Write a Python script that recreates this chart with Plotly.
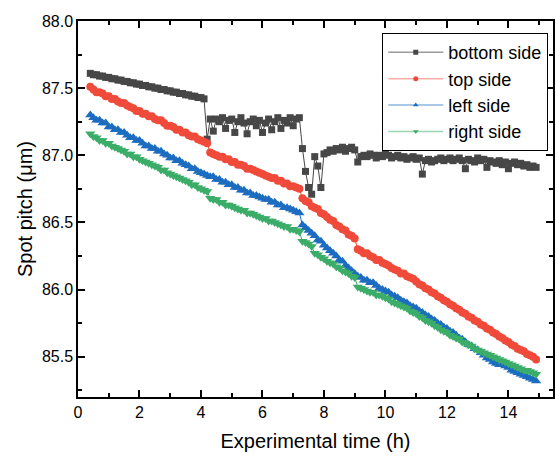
import numpy as np
import plotly.graph_objects as go

# Sampling clock: one reading every 0.1 h from 0.4 h to 14.9 h
time_h = np.round(np.arange(0.4, 14.95, 0.1), 1)

bottom_side = [
    87.61, 87.60, 87.60, 87.59, 87.59, 87.58, 87.58, 87.57, 87.57, 87.56,
    87.56, 87.55, 87.55, 87.54, 87.54, 87.53, 87.53, 87.52, 87.52, 87.51,
    87.51, 87.50, 87.50, 87.49, 87.49, 87.48, 87.48, 87.47, 87.47, 87.46,
    87.46, 87.45, 87.45, 87.44, 87.44, 87.43, 87.43, 87.42, 87.12, 87.27,
    87.18, 87.27, 87.25, 87.28, 87.20, 87.26, 87.27, 87.17, 87.25, 87.28,
    87.24, 87.16, 87.25, 87.27, 87.22, 87.26, 87.17, 87.24, 87.27, 87.19,
    87.25, 87.28, 87.20, 87.26, 87.24, 87.28, 87.22, 87.27, 87.28, 87.05,
    86.88, 86.76, 86.71, 86.99, 86.92, 86.76, 87.01, 87.02, 87.04, 87.03,
    87.05, 87.04, 87.06, 87.03, 87.05, 87.06, 87.04, 86.95, 86.99, 87.00,
    86.99, 87.01, 87.00, 86.98, 87.00, 86.99, 87.01, 87.00, 86.98, 86.99,
    87.00, 86.98, 86.99, 86.97, 86.98, 86.99, 86.97, 86.98, 86.86, 86.96,
    86.97, 86.95, 86.96, 86.97, 86.98, 86.96, 86.97, 86.98, 86.96, 86.97,
    86.98, 86.96, 86.90, 86.97, 86.96, 86.95, 86.98, 86.96, 86.97, 86.91,
    86.96, 86.95, 86.94, 86.96, 86.93, 86.95, 86.90, 86.94, 86.95, 86.93,
    86.94, 86.92, 86.93, 86.91, 86.92, 86.91,
]

top_side = [
    87.51, 87.49, 87.47, 87.47, 87.46, 87.44, 87.44, 87.42, 87.42, 87.40,
    87.39, 87.39, 87.37, 87.36, 87.35, 87.33, 87.33, 87.31, 87.31, 87.29,
    87.29, 87.27, 87.26, 87.26, 87.24, 87.22, 87.22, 87.21, 87.19, 87.19,
    87.17, 87.17, 87.15, 87.14, 87.14, 87.12, 87.11, 87.10, 87.09, 87.02,
    87.01, 87.00, 86.99, 86.99, 86.97, 86.97, 86.95, 86.95, 86.93, 86.93,
    86.92, 86.90, 86.90, 86.89, 86.88, 86.87, 86.86, 86.85, 86.84, 86.83,
    86.83, 86.81, 86.81, 86.79, 86.79, 86.77, 86.77, 86.76, 86.75, 86.68,
    86.66, 86.65, 86.62, 86.61, 86.60, 86.57, 86.56, 86.54, 86.52, 86.51,
    86.48, 86.47, 86.45, 86.44, 86.41, 86.40, 86.38, 86.30, 86.29, 86.27,
    86.27, 86.25, 86.24, 86.22, 86.22, 86.20, 86.19, 86.18, 86.16, 86.15,
    86.14, 86.12, 86.12, 86.10, 86.09, 86.08, 86.06, 86.04, 86.03, 86.01,
    86.00, 85.98, 85.97, 85.95, 85.94, 85.92, 85.91, 85.89, 85.88, 85.86,
    85.85, 85.83, 85.82, 85.80, 85.79, 85.77, 85.76, 85.74, 85.73, 85.71,
    85.70, 85.68, 85.67, 85.65, 85.64, 85.62, 85.61, 85.59, 85.58, 85.56,
    85.55, 85.54, 85.52, 85.51, 85.50, 85.48,
]

left_side = [
    87.30, 87.28, 87.26, 87.26, 87.24, 87.24, 87.21, 87.21, 87.19, 87.19,
    87.17, 87.17, 87.15, 87.13, 87.13, 87.11, 87.11, 87.09, 87.07, 87.07,
    87.05, 87.05, 87.03, 87.03, 87.01, 87.00, 86.98, 86.98, 86.96, 86.96,
    86.94, 86.93, 86.92, 86.90, 86.90, 86.88, 86.87, 86.86, 86.85, 86.84,
    86.84, 86.82, 86.82, 86.80, 86.80, 86.78, 86.78, 86.76, 86.76, 86.74,
    86.74, 86.72, 86.72, 86.70, 86.70, 86.69, 86.68, 86.67, 86.67, 86.65,
    86.65, 86.63, 86.63, 86.61, 86.61, 86.60, 86.59, 86.58, 86.57, 86.48,
    86.46, 86.44, 86.42, 86.40, 86.37, 86.36, 86.33, 86.31, 86.29, 86.27,
    86.25, 86.22, 86.21, 86.18, 86.16, 86.14, 86.12, 86.10, 86.09, 86.07,
    86.07, 86.05, 86.05, 86.03, 86.01, 86.00, 85.99, 85.98, 85.96, 85.95,
    85.94, 85.92, 85.91, 85.90, 85.88, 85.87, 85.86, 85.84, 85.83, 85.81,
    85.80, 85.78, 85.77, 85.75, 85.74, 85.72, 85.71, 85.69, 85.68, 85.66,
    85.64, 85.63, 85.61, 85.59, 85.58, 85.56, 85.55, 85.53, 85.51, 85.49,
    85.48, 85.46, 85.45, 85.44, 85.44, 85.43, 85.42, 85.40, 85.39, 85.38,
    85.37, 85.36, 85.35, 85.34, 85.33, 85.32,
]

right_side = [
    87.16, 87.14, 87.13, 87.11, 87.11, 87.09, 87.09, 87.07, 87.06, 87.05,
    87.04, 87.03, 87.01, 87.01, 86.99, 86.99, 86.97, 86.96, 86.95, 86.94,
    86.93, 86.92, 86.91, 86.89, 86.89, 86.87, 86.86, 86.85, 86.84, 86.83,
    86.82, 86.81, 86.80, 86.78, 86.78, 86.76, 86.75, 86.74, 86.73, 86.68,
    86.67, 86.67, 86.65, 86.65, 86.63, 86.63, 86.62, 86.61, 86.60, 86.59,
    86.59, 86.57, 86.57, 86.56, 86.55, 86.54, 86.53, 86.53, 86.51, 86.51,
    86.50, 86.49, 86.48, 86.47, 86.47, 86.45, 86.45, 86.44, 86.43, 86.36,
    86.35, 86.34, 86.32, 86.27, 86.26, 86.24, 86.23, 86.21, 86.20, 86.19,
    86.17, 86.16, 86.14, 86.13, 86.12, 86.10, 86.09, 86.02, 86.01, 86.00,
    85.99, 85.98, 85.98, 85.96, 85.96, 85.95, 85.94, 85.93, 85.91, 85.90,
    85.89, 85.88, 85.87, 85.86, 85.84, 85.83, 85.82, 85.80, 85.79, 85.77,
    85.76, 85.75, 85.73, 85.72, 85.70, 85.69, 85.68, 85.66, 85.65, 85.64,
    85.63, 85.61, 85.60, 85.59, 85.58, 85.56, 85.55, 85.54, 85.53, 85.52,
    85.51, 85.50, 85.49, 85.48, 85.47, 85.46, 85.45, 85.44, 85.43, 85.42,
    85.41, 85.40, 85.40, 85.39, 85.38, 85.37,
]

series_names = ["bottom side", "top side", "left side", "right side"]
series_values = [bottom_side, top_side, left_side, right_side]
marker_colors = ["#474747", "#f04a3b", "#1c6cc0", "#3bad69"]
line_colors = ["rgba(71,71,71,0.55)", "rgba(240,74,59,0.45)",
               "rgba(28,108,192,0.5)", "rgba(59,173,105,0.5)"]
marker_symbols = ["square", "circle", "triangle-up", "triangle-down"]
marker_sizes = [7, 8, 9, 9]

FONT = "Liberation Sans, Arial, Helvetica, sans-serif"

fig = go.Figure()
for name, vals, mc, sym, ms in zip(series_names, series_values,
                                   marker_colors, marker_symbols,
                                   marker_sizes):
    # dense measurement band
    fig.add_trace(go.Scatter(
        x=time_h, y=vals, name=name, mode="lines+markers", showlegend=False,
        line=dict(color=mc, width=1),
        marker=dict(symbol=sym, size=ms, color=mc, line=dict(width=0)),
    ))

# legend keys: thin light line with a small symbol
for name, mc, lc, sym in zip(series_names, marker_colors, line_colors,
                             marker_symbols):
    fig.add_trace(go.Scatter(
        x=[None], y=[None], name=name, mode="lines+markers",
        line=dict(color=lc, width=1.5),
        marker=dict(symbol=sym, size=5, color=mc, line=dict(width=0)),
    ))

axis_common = dict(
    showline=True, linecolor="black", linewidth=1.5, mirror="ticks",
    ticks="inside", ticklen=7, tickwidth=1.5, tickcolor="black",
    showgrid=False, zeroline=False,
    tickfont=dict(family=FONT, size=16, color="black"),
)

fig.update_xaxes(
    range=[0, 15.45], dtick=2, tick0=0,
    minor=dict(ticks="inside", ticklen=4, tickwidth=1.5, dtick=1, tick0=0,
               tickcolor="black"),
    title=dict(text="Experimental time (h)",
               font=dict(family=FONT, size=20, color="black"), standoff=14),
    **axis_common,
)
fig.update_yaxes(
    range=[85.2, 88.0], dtick=0.5, tick0=85.5, tickformat=".1f",
    minor=dict(ticks="inside", ticklen=4, tickwidth=1.5, dtick=0.25,
               tick0=85.25, tickcolor="black"),
    title=dict(text="Spot pitch (μm)",
               font=dict(family=FONT, size=20, color="black"), standoff=4),
    **axis_common,
)

fig.update_layout(
    width=555, height=458,
    margin=dict(l=78, r=0, t=21, b=61),
    paper_bgcolor="white", plot_bgcolor="white",
    showlegend=True,
    legend=dict(
        x=0.99, y=0.968, xanchor="right", yanchor="top",
        bgcolor="white", bordercolor="black", borderwidth=1,
        font=dict(family=FONT, size=18, color="black"),
        itemwidth=55, tracegroupgap=0,
    ),
)

fig.write_html("out.html")
